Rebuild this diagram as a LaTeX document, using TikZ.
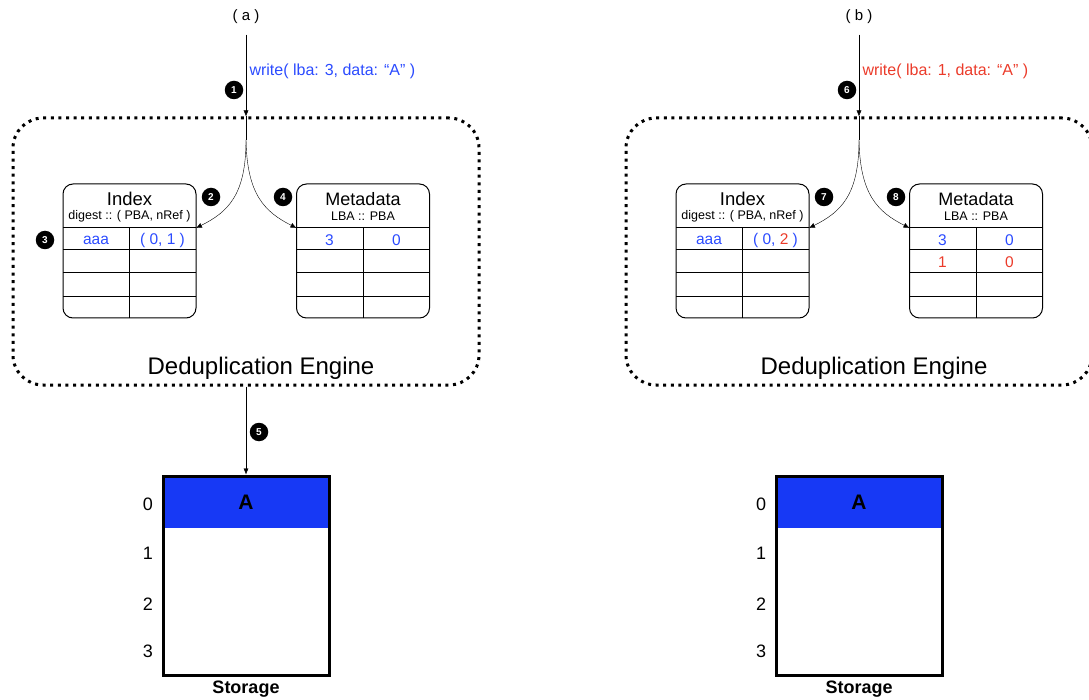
\documentclass[tikz,border=0pt]{standalone}
\usepackage{fontspec}
\setmainfont{Liberation Sans}
\usetikzlibrary{positioning,arrows.meta}

\definecolor{wblue}{HTML}{2B4BFF}
\definecolor{wred}{HTML}{EB3B2A}
\definecolor{blkblue}{HTML}{1739F5}

\newcommand{\fs}[1]{\fontsize{#1}{#1}\selectfont}

\tikzset{
  >={Latex[length=6pt,width=5pt]},
  engine/.style={draw, line width=3pt, dash pattern=on 3pt off 4.6pt, rounded corners=30pt, minimum width=466pt, minimum height=267pt},
  tablebox/.style={draw, line width=1pt, rounded corners=10pt, minimum width=133pt, minimum height=134pt},
  badge/.style={circle, fill=black, text=white, inner sep=0pt, minimum size=18.5pt, font=\bfseries\fs{10}},
  cell/.style={font=\fs{15.5}, inner sep=0pt},
  storebox/.style={draw, line width=3pt, minimum width=166pt, minimum height=199pt},
  slot/.style={font=\fs{18}, inner sep=0pt}
}

\begin{document}
\begin{tikzpicture}[x=1pt, y=-1pt]
        \useasboundingbox (0,0) rectangle (1089,700);

        % ---------- Panel (a) ----------
        \node[font=\fs{15}] (labA) at (246,17) {( a )};
        \node[engine] (engA) at (246,251.5) {};
        \node[font=\fs{24}] (engtxtA) at (261,368) {Deduplication Engine};

        % Index table
        \node[tablebox] (idxA) at (129.5,251) {};
        \node[font=\fs{18.5}] (idxtA) at (129.5,199) {Index};
        \node[font=\fs{12.5}] (idxsA) at (129.5,216) {digest :: ( PBA, nRef )};
        \foreach \yy in {228,250,273,297} \draw[line width=1pt] (63,\yy) -- (196,\yy);
        \draw[line width=1pt] (129.5,228) -- (129.5,318);
        \coordinate (idxinA) at (196,228);
        \node[cell, text=wblue] (idxk1A) at (96,240) {aaa};
        \node[cell, text=wblue] (idxv1A) at (162.5,240) {( 0, 1 )};

        % Metadata table
        \node[tablebox] (metaA) at (363,251) {};
        \node[font=\fs{18}] (metatA) at (363,199) {Metadata};
        \node[font=\fs{12.5}] (metasA) at (363,216) {LBA :: PBA};
        \foreach \yy in {228,250,273,297} \draw[line width=1pt] (296.5,\yy) -- (429.5,\yy);
        \draw[line width=1pt] (363,228) -- (363,318);
        \coordinate (metainA) at (296.5,228);
        \node[cell, text=wblue] (metak1A) at (329.5,240) {3};
        \node[cell, text=wblue] (metav1A) at (396.5,240) {0};

        % Storage
        \node[minimum width=166pt, minimum height=52pt, fill=blkblue, inner sep=0pt, font=\bfseries\fs{21}] (blkA) at (246,502) {A};
        \node[storebox] (storA) at (246,575.5) {};
        \node[font=\bfseries\fs{18}] (stortA) at (246,689) {Storage};
        \node[slot] (s0A) at (148,504) {0};
        \node[slot] (s1A) at (148,553) {1};
        \node[slot] (s2A) at (148,604) {2};
        \node[slot] (s3A) at (148,651) {3};

        % connections
        \coordinate (splitA) at (246,140);
        \draw[->] ([yshift=-7pt]labA.south) -- node[right, font=\fs{16}, text=wblue, pos=0.45] {write( lba: 3, data: ``A'' )} (engA.north);
        \draw (engA.north) -- (splitA);
        \draw[->] (splitA) .. controls (246,195) and (228,212) .. (idxinA);
        \draw[->] (splitA) .. controls (247,195) and (265,212) .. (metainA);
        \draw[->] (engA.south) -- (storA.north);

        % badges
        \node[badge] (b1) at (234,90) {1};
        \node[badge] (b2) at (211,197) {2};
        \node[badge] (b3) at (45,240) {3};
        \node[badge] (b4) at (283,197) {4};
        \node[badge] (b5) at (259,432) {5};

        % ---------- Panel (b) ----------
        \begin{scope}[xshift=613pt]
        \node[font=\fs{15}] (labB) at (246,17) {( b )};
        \node[engine] (engB) at (246,251.5) {};
        \node[font=\fs{24}] (engtxtB) at (261,368) {Deduplication Engine};

        % Index table
        \node[tablebox] (idxB) at (129.5,251) {};
        \node[font=\fs{18.5}] (idxtB) at (129.5,199) {Index};
        \node[font=\fs{12.5}] (idxsB) at (129.5,216) {digest :: ( PBA, nRef )};
        \foreach \yy in {228,250,273,297} \draw[line width=1pt] (63,\yy) -- (196,\yy);
        \draw[line width=1pt] (129.5,228) -- (129.5,318);
        \coordinate (idxinB) at (196,228);
        \node[cell, text=wblue] (idxk1B) at (96,240) {aaa};
        \node[cell, text=wblue] (idxv1B) at (162.5,240) {( 0, \textcolor{wred}{2} )};

        % Metadata table
        \node[tablebox] (metaB) at (363,251) {};
        \node[font=\fs{18}] (metatB) at (363,199) {Metadata};
        \node[font=\fs{12.5}] (metasB) at (363,216) {LBA :: PBA};
        \foreach \yy in {228,250,273,297} \draw[line width=1pt] (296.5,\yy) -- (429.5,\yy);
        \draw[line width=1pt] (363,228) -- (363,318);
        \coordinate (metainB) at (296.5,228);
        \node[cell, text=wblue] (metak1B) at (329.5,240) {3};
        \node[cell, text=wblue] (metav1B) at (396.5,240) {0};
        \node[cell, text=wred] (metak2B) at (329.5,262) {1};
        \node[cell, text=wred] (metav2B) at (396.5,262) {0};

        % Storage
        \node[minimum width=166pt, minimum height=52pt, fill=blkblue, inner sep=0pt, font=\bfseries\fs{21}] (blkB) at (246,502) {A};
        \node[storebox] (storB) at (246,575.5) {};
        \node[font=\bfseries\fs{18}] (stortB) at (246,689) {Storage};
        \node[slot] (s0B) at (148,504) {0};
        \node[slot] (s1B) at (148,553) {1};
        \node[slot] (s2B) at (148,604) {2};
        \node[slot] (s3B) at (148,651) {3};

        % connections
        \coordinate (splitB) at (246,140);
        \draw[->] ([yshift=-7pt]labB.south) -- node[right, font=\fs{16}, text=wred, pos=0.45] {write( lba: 1, data: ``A'' )} (engB.north);
        \draw (engB.north) -- (splitB);
        \draw[->] (splitB) .. controls (246,195) and (228,212) .. (idxinB);
        \draw[->] (splitB) .. controls (247,195) and (265,212) .. (metainB);

        % badges
        \node[badge] (b6) at (234,90) {6};
        \node[badge] (b7) at (211,197) {7};
        \node[badge] (b8) at (283,197) {8};
        \end{scope}

    \end{tikzpicture}
\end{document}
